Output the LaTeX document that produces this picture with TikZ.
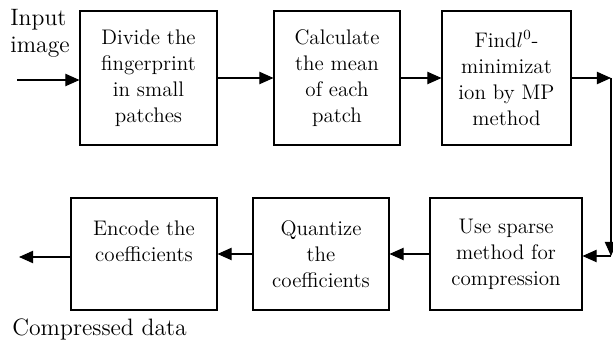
\documentclass[tikz,border=0pt]{standalone}
\usetikzlibrary{arrows.meta}
\tikzset{
    block/.style={draw, line width=0.6pt, inner sep=0pt, align=center,
        font=\fontsize{12}{14.8}\selectfont},
    toprow/.style={block, minimum height=2.68cm},
    botrow/.style={block, minimum height=2.24cm},
    flow/.style={line width=0.6pt, -{Triangle[length=8pt,width=7pt]}},
    outer/.style={align=left, inner sep=0pt, font=\fontsize{13.5}{15.5}\selectfont},
}
\begin{document}
\begin{tikzpicture}[x=0.02cm,y=-0.02cm]
    \useasboundingbox (0,0) rectangle (613,348);
    % first row
    \node[toprow, minimum width=2.74cm] (divide) at (148.5,78) {Divide the\\fingerprint\\in small\\patches};
    \node[toprow, minimum width=2.52cm] (mean) at (337,78) {Calculate\\the mean\\of each\\patch};
    \node[toprow, minimum width=2.58cm] (find) at (506.5,78) {Find$l^0$-\\minimizat\\ion by MP\\method};
    % second row
    \node[botrow, minimum width=3.04cm] (sparse) at (506,254) {Use sparse\\method for\\compression};
    \node[botrow, minimum width=2.72cm] (quant) at (321,254) {Quantize\\the\\coefficients};
    \node[botrow, minimum width=2.92cm] (encode) at (144,254) {Encode the\\coefficients\\\phantom{x}};
    % outside texts
    \node[outer, anchor=west] (input) at (10,33) {Input\\image};
    \node[outer, anchor=west] (comp) at (12,329) {Compressed data};
    \coordinate (start) at (17,80);
    \coordinate (turn) at (611,78);
    \coordinate (back) at (611,256);
    \coordinate (stop) at (19,257);
    % connectors
    \draw[flow] (start) -- (start -| divide.west);
    \draw[flow] (divide) -- (mean);
    \draw[flow] (mean) -- (find);
    \draw[flow] (find) -- (turn);
    \draw[flow] (turn) -- (back);
    \draw[flow] (back) -- (back -| sparse.east);
    \draw[flow] (sparse) -- (quant);
    \draw[flow] (quant) -- (encode);
    \draw[flow] (encode.west |- stop) -- (stop);
\end{tikzpicture}
\end{document}
